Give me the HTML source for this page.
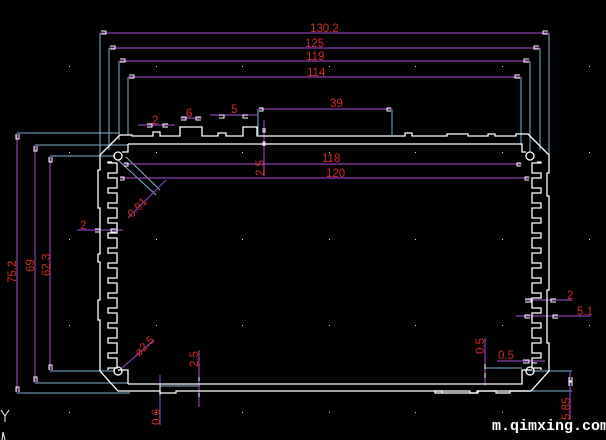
<!DOCTYPE html>
<html><head><style>
html,body{margin:0;padding:0;background:#000;width:606px;height:440px;overflow:hidden}
svg{display:block}
text{font-family:"Liberation Sans",sans-serif;fill:#d42a2a;font-size:11.5px}
</style></head><body>
<svg width="606" height="440" viewBox="0 0 606 440" xmlns="http://www.w3.org/2000/svg">
<g fill="#ddd">
<rect x="69" y="66" width="1" height="1"/><rect x="156" y="66" width="1" height="1"/><rect x="242" y="66" width="1" height="1"/><rect x="329" y="66" width="1" height="1"/><rect x="415" y="66" width="1" height="1"/><rect x="502" y="66" width="1" height="1"/><rect x="589" y="66" width="1" height="1"/>
<rect x="69" y="152" width="1" height="1"/><rect x="156" y="152" width="1" height="1"/><rect x="242" y="152" width="1" height="1"/><rect x="329" y="152" width="1" height="1"/><rect x="415" y="152" width="1" height="1"/><rect x="502" y="152" width="1" height="1"/><rect x="589" y="152" width="1" height="1"/>
<rect x="69" y="239" width="1" height="1"/><rect x="156" y="239" width="1" height="1"/><rect x="242" y="239" width="1" height="1"/><rect x="329" y="239" width="1" height="1"/><rect x="415" y="239" width="1" height="1"/><rect x="502" y="239" width="1" height="1"/><rect x="589" y="239" width="1" height="1"/>
<rect x="69" y="325" width="1" height="1"/><rect x="156" y="325" width="1" height="1"/><rect x="242" y="325" width="1" height="1"/><rect x="329" y="325" width="1" height="1"/><rect x="415" y="325" width="1" height="1"/><rect x="502" y="325" width="1" height="1"/><rect x="589" y="325" width="1" height="1"/>
<rect x="69" y="412" width="1" height="1"/><rect x="156" y="412" width="1" height="1"/><rect x="242" y="412" width="1" height="1"/><rect x="329" y="412" width="1" height="1"/><rect x="415" y="412" width="1" height="1"/><rect x="502" y="412" width="1" height="1"/>
</g>
<g stroke="#7fb4d8" stroke-width="1" fill="none">
<line x1="100" y1="33" x2="100" y2="155"/><line x1="109" y1="48" x2="109" y2="150"/><line x1="119" y1="61" x2="119" y2="140"/><line x1="128" y1="77" x2="128" y2="135"/>
<line x1="549" y1="33" x2="549" y2="155"/><line x1="540" y1="48" x2="540" y2="150"/><line x1="530" y1="61" x2="530" y2="152"/><line x1="521" y1="77" x2="521" y2="145"/>
<line x1="258" y1="109" x2="258" y2="135"/><line x1="392" y1="109" x2="392" y2="135"/>
<line x1="17" y1="133" x2="120" y2="133"/><line x1="35" y1="145" x2="128" y2="145"/><line x1="50" y1="156" x2="115" y2="156"/>
<line x1="17" y1="393" x2="130" y2="393"/><line x1="35" y1="383" x2="128" y2="383"/><line x1="50" y1="371" x2="115" y2="371"/>
<line x1="118" y1="160" x2="156" y2="195"/><line x1="126" y1="157" x2="160" y2="190"/>
<line x1="485" y1="368" x2="522" y2="368"/><line x1="532" y1="371" x2="572" y2="371"/><line x1="532" y1="391" x2="572" y2="391"/>
<line x1="160" y1="386" x2="200" y2="386"/><line x1="180" y1="391" x2="200" y2="391"/>
</g>
<g stroke="#8a3fb0" stroke-width="1.2" fill="none">
<line x1="100" y1="33" x2="549" y2="33"/><line x1="109" y1="48" x2="540" y2="48"/><line x1="119" y1="61" x2="530" y2="61"/><line x1="128" y1="77" x2="521" y2="77"/>
<line x1="258" y1="109" x2="392" y2="109"/>
<line x1="138" y1="125" x2="175" y2="125"/><line x1="180" y1="118" x2="202" y2="118"/><line x1="210" y1="115" x2="257" y2="115"/>
<line x1="123" y1="164" x2="522" y2="164"/><line x1="120" y1="178" x2="530" y2="178"/>
<line x1="264" y1="120" x2="264" y2="176"/>
<line x1="17" y1="133" x2="17" y2="393"/><line x1="35" y1="145" x2="35" y2="383"/><line x1="50" y1="156" x2="50" y2="371"/>
<line x1="128" y1="218" x2="166" y2="180"/>
<line x1="122" y1="368" x2="154" y2="340"/>
<line x1="199" y1="350" x2="199" y2="407"/><line x1="160" y1="375" x2="160" y2="425"/>
<line x1="485" y1="338" x2="485" y2="386"/><line x1="497" y1="361" x2="545" y2="361"/>
<line x1="525" y1="300" x2="572" y2="300"/><line x1="516" y1="316" x2="591" y2="316"/>
<line x1="570" y1="372" x2="570" y2="420"/>
<line x1="77" y1="230" x2="123" y2="230"/>
</g>
<g stroke="#fff" stroke-width="1" fill="none">
<path d="M101 31 h5 v3 h-5"/><path d="M110 46 h5 v3 h-5"/><path d="M120 59 h5 v3 h-5"/><path d="M129 75 h5 v3 h-5"/>
<path d="M548 31 h-5 v3 h5"/><path d="M539 46 h-5 v3 h5"/><path d="M529 59 h-5 v3 h5"/><path d="M520 75 h-5 v3 h5"/>
<path d="M259 108 h4 v3 h-4"/><path d="M391 108 h-4 v3 h4"/>
<path d="M16 134 v5 h3 v-5"/><path d="M34 146 v5 h3 v-5"/><path d="M49 157 v5 h3 v-5"/>
<path d="M16 392 v-5 h3 v5"/><path d="M34 382 v-5 h3 v5"/><path d="M49 370 v-5 h3 v5"/>
<path d="M124 163 h4 v3 h-4"/><path d="M120 177 h4 v3 h-4"/><path d="M521 163 h-4 v3 h4"/><path d="M529 177 h-4 v3 h4"/>
<path d="M263 128 v4 h2 v-4"/><path d="M263 146 v-4 h2 v4"/>
<path d="M147 124 h5 v3 h-5"/><path d="M168 124 h-5 v3 h5"/><path d="M181 117 h5 v3 h-5"/><path d="M201 117 h-5 v3 h5"/>
<path d="M219 115 h5 v3 h-5"/><path d="M248 115 h-5 v3 h5"/>
<path d="M199 377 v4 M199 397 v-4"/><path d="M160 385 v5 M160 395 v-5"/>
<path d="M485 364 v5 M485 378 v-5"/><path d="M523 360 h6 v3 h-6"/><path d="M537 363 h-5"/>
<path d="M569 377 v4 h3 v-4"/><path d="M569 386 v-4 h3 v4"/>
<path d="M525 299 h6 v3 h-6"/><path d="M556 299 h-5 v3 h5"/><path d="M530 315 h-5 v3 h5"/><path d="M558 315 h-5 v3 h5"/>
<path d="M95 229 h5 v3 h-5"/><path d="M116 229 h-5 v3 h5"/>
</g>
<g stroke="#fff" stroke-width="1.3" fill="none">
<path d="M120 135 H132 V136 H153 V132 H160 V136 H180 V127 H202 V136 H218 V133 H226 V136 H243 V127 H257 V136 H258 H405 V133 H412 V136 H447 V134 H468 V136 H488 V134 H495 V136 H516 V134 H528 L549 155 V173 H547 V196 H549 V290 H547 V343 H549 V371 L531 391 H510 V393 H496 V391 H477 V393 H472 H442 V391 H435 V393 H468"/>
<path d="M531 391 H478 V393 H470 V391 H176 V393 H160 V391 H118 L100 371 V320 H98 V300 H100 V262 H98 V254 H100 V208 H98 V170 H100 V155 L120 135"/>
<path d="M128 144 H522 V152 H526"/><path d="M128 144 V152 H122"/>
<circle cx="118" cy="156" r="4"/><circle cx="530" cy="156" r="4"/>
<path d="M112 162 H108 V163 h9v10h-9v5 h9v10h-9v5 h9v10h-9v5 h9v10h-9v5 h9v10h-9v5 h9v10h-9v5 h9v10h-9v5 h9v10h-9v5 h9v10h-9v5 h9v10h-9v5 h9v10h-9v5 h9v10h-9v5 h9v10h-9v5 h9v10h-9 V370"/>
<path d="M537 162 H541 V163 h-9v10h9v5 h-9v10h9v5 h-9v10h9v5 h-9v10h9v5 h-9v10h9v5 h-9v10h9v5 h-9v10h9v5 h-9v10h9v5 h-9v10h9v5 h-9v10h9v5 h-9v10h9v5 h-9v10h9v5 h-9v10h9v5 h-9v10h9 V370"/>
<path d="M128 384 H522 V370 H532"/><path d="M128 384 V370 H118"/>
<circle cx="118" cy="371" r="4"/><circle cx="530" cy="371" r="4"/>
</g>
<text x="310" y="32">130.2</text>
<text x="305" y="47">125</text>
<text x="306" y="60">119</text>
<text x="307" y="76">114</text>
<text x="330" y="107">39</text>
<text x="152" y="124" font-size="10">2</text>
<text x="186" y="117" font-size="10">6</text>
<text x="231" y="113" font-size="10">5</text>
<text x="322" y="162">118</text>
<text x="326" y="177">120</text>
<text x="80" y="229" font-size="10">2</text>
<text x="567" y="299" font-size="10">2</text>
<text x="577" y="315">5.1</text>
<text x="498" y="359">0.5</text>
<text transform="translate(264,176) rotate(-90)">2.5</text>
<text transform="translate(16,283) rotate(-90)">75.2</text>
<text transform="translate(34,272) rotate(-90)">69</text>
<text transform="translate(50,276) rotate(-90)">62.3</text>
<text transform="translate(132,218) rotate(-45)">0.91</text>
<text transform="translate(139,357) rotate(-45)">ø2.5</text>
<text transform="translate(198,367) rotate(-90)">2.5</text>
<text transform="translate(160,425) rotate(-90)">0.6</text>
<text transform="translate(484,354) rotate(-90)">0.5</text>
<text transform="translate(570,420) rotate(-90)">5.85</text>
<text x="492" y="430" style="fill:#fff;font-family:'Liberation Mono',monospace;font-size:15px;font-weight:bold">m.qimxing.com</text>
<path d="M1 410 L5 416 L9 410 M5 416 V422 M2 440 L3 432 L5 440" stroke="#fff" stroke-width="1" fill="none"/>
</svg>
</body></html>
